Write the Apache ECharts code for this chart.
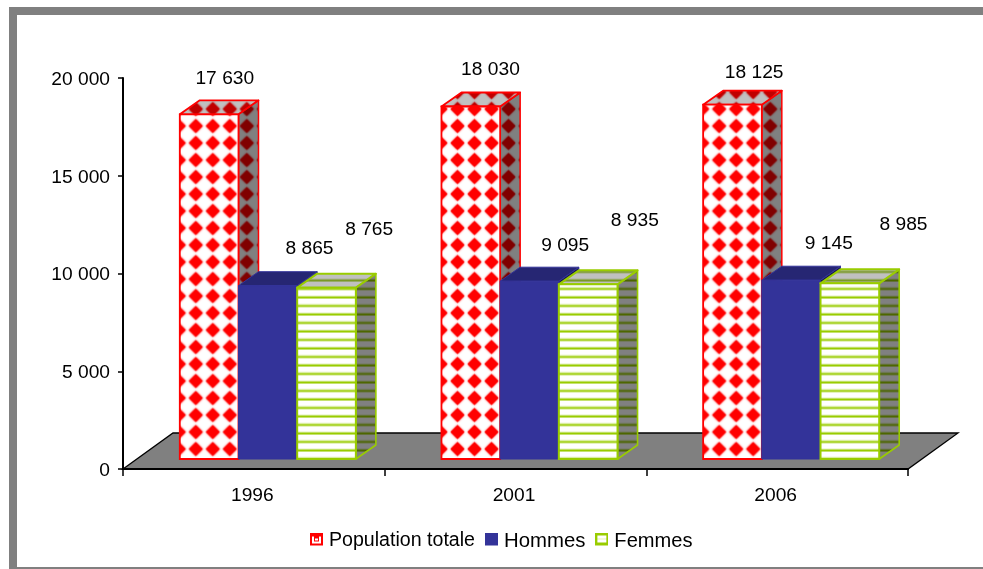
<!DOCTYPE html>
<html>
<head>
<meta charset="utf-8">
<style>html,body{margin:0;padding:0;background:#fff}#c{width:983px;height:569px}</style>
<script src="https://cdn.jsdelivr.net/npm/echarts@6/dist/echarts.min.js"></script>
</head>
<body>
<div id="c"></div>
<script>
const categories = ['1996', '2001', '2006'];
const populationTotale = [17630, 18030, 18125];
const hommes = [8865, 9095, 9145];
const femmes = [8765, 8935, 8985];
const yTicks = [0, 5000, 10000, 15000, 20000];

// layout: label offsets from each bar's front-top-left corner
const labelOffsets = [
  [[45, -36], [71, -37], [72, -58]],
  [[49, -37], [65, -35], [76, -64]],
  [[51, -32], [67, -37], [83, -59]]
];
const FONT = '"Liberation Sans", Arial, sans-serif';
const FS = 19.2;
const DEPTH_X = 20, DEPTH_Y = -14, SHIFT_X = 14, SHIFT_Y = -10;
const BAR_RATIO = 0.2243;

function fmt(v) { return String(v).replace(/\B(?=(\d{3})+$)/g, ' '); }

function diamondTile(bg, fg) {
  const c = document.createElement('canvas'); c.width = c.height = 17;
  const g = c.getContext('2d');
  g.fillStyle = bg; g.fillRect(0, 0, 17, 17);
  g.fillStyle = fg;
  g.shadowColor = fg; g.shadowBlur = 2;
  g.beginPath(); g.moveTo(8.5, 1.5); g.lineTo(15.5, 8.5); g.lineTo(8.5, 15.5); g.lineTo(1.5, 8.5); g.closePath(); g.fill();
  return c;
}
function stripeTile(bg, fg) {
  const c = document.createElement('canvas'); c.width = c.height = 17;
  const g = c.getContext('2d');
  g.fillStyle = bg; g.fillRect(0, 0, 17, 17);
  g.fillStyle = fg;
  g.fillRect(0, 3.5, 17, 2); g.fillRect(0, 12, 17, 2);
  g.globalAlpha = 0.3;
  g.fillRect(0, 2.5, 17, 1); g.fillRect(0, 11, 17, 1);
  return c;
}
const pat = c => ({ image: c, repeat: 'repeat' });

const styles = [
  { front: pat(diamondTile('#ffffff', '#ff0000')), top: pat(diamondTile('#c0c0c0', '#c00000')), side: pat(diamondTile('#808080', '#800000')), stroke: '#ff0000', lw: 1.8, sideLw: 1.5, patX: -7.5, patY: 18.5 },
  { front: '#333399', top: '#262673', side: '#1a1a4d', stroke: '#333399', lw: 1, sideLw: 1, patX: 0, patY: 0 },
  { front: pat(stripeTile('#ffffff', '#99cc00')), top: pat(stripeTile('#c0c0c0', '#7a9926')), side: pat(stripeTile('#808080', '#4d6600')), stroke: '#99cc00', lw: 2, sideLw: 1.6, patX: 0, patY: 4.5 }
];

function legendIcon(kind) {
  const c = document.createElement('canvas'); c.width = 13; c.height = 17;
  const g = c.getContext('2d');
  if (kind === 0) {
    g.fillStyle = '#ff0000'; g.fillRect(0, 0, 13, 13);
    g.fillStyle = '#ffffff';
    g.fillRect(2, 4, 2, 7); g.fillRect(9, 4, 2, 7); g.fillRect(4, 9, 5, 2); g.fillRect(5, 6, 3, 2);
  } else if (kind === 1) {
    g.fillStyle = '#333399'; g.fillRect(0, 0, 13, 13);
  } else {
    g.fillStyle = '#99cc00'; g.fillRect(0, 0, 13, 13);
    g.fillStyle = '#ffffff'; g.fillRect(2, 3, 9, 7);
    g.fillStyle = '#e6f2b3'; g.fillRect(2, 6, 9, 1);
  }
  return 'image://' + c.toDataURL();
}

function barRender(si) {
  return function (params, api) {
    const cat = api.value(0), val = api.value(1);
    const pTop = api.coord([cat, val]), pBase = api.coord([cat, 0]);
    const band = api.size([1, 0])[0];
    const w = band * BAR_RATIO;
    const left = pBase[0] + SHIFT_X + (si - 1.5) * w;
    const top = pTop[1] + SHIFT_Y, base = pBase[1] + SHIFT_Y;
    const h = base - top;
    const st = styles[si];
    const ox = left - st.patX, oy = base - st.patY;
    const lx = left - ox, rx = lx + w, by = base - oy, ty = top - oy;
    const off = labelOffsets[cat][si];
    return {
      type: 'group',
      children: [
        { type: 'polygon', x: ox, y: oy,
          shape: { points: [[rx, ty], [rx + DEPTH_X, ty + DEPTH_Y], [rx + DEPTH_X, by + DEPTH_Y], [rx, by]] },
          style: { fill: st.side, stroke: st.stroke, lineWidth: st.sideLw, lineJoin: 'round' } },
        { type: 'polygon', x: ox, y: oy,
          shape: { points: [[lx, ty], [lx + DEPTH_X, ty + DEPTH_Y], [rx + DEPTH_X, ty + DEPTH_Y], [rx, ty]] },
          style: { fill: st.top, stroke: st.stroke, lineWidth: st.lw, lineJoin: 'round' } },
        { type: 'rect', x: ox, y: oy,
          shape: { x: lx, y: ty, width: w, height: h },
          style: { fill: st.front, stroke: st.stroke, lineWidth: st.lw } },
        { type: 'text', x: left + off[0], y: top + off[1],
          style: { text: fmt(val), font: FS + 'px ' + FONT, fill: '#000', align: 'center', verticalAlign: 'middle' } }
      ]
    };
  };
}

function floorRender(params, api) {
  const cs = params.coordSys;
  const x0 = cs.x, x1 = cs.x + cs.width, y0 = cs.y + cs.height;
  const dx = 50, dy = -36;
  return {
    type: 'polygon',
    shape: { points: [[x0, y0], [x0 + dx, y0 + dy], [x1 + dx, y0 + dy], [x1, y0]] },
    style: { fill: '#808080', stroke: '#000', lineWidth: 1.3 }
  };
}

const names = ['Population totale', 'Hommes', 'Femmes'];
const legendSizes = [19.6, 20.35, 20.1];
const legendPads = [[0, 0, 0, 1], [0, 0, 2, 1], [0, 0, 2, 1]];
const values = [populationTotale, hommes, femmes];
const chart = echarts.init(document.getElementById('c'), null, { renderer: 'canvas', width: 983, height: 569 });
const option = {
  animation: false,
  backgroundColor: '#ffffff',
  textStyle: { fontFamily: FONT },
  grid: { left: 123, top: 78, width: 785, height: 391, containLabel: false },
  xAxis: {
    type: 'category', data: categories, z: 5,
    boundaryGap: true,
    axisLine: { lineStyle: { color: '#000', width: 2 } },
    axisTick: { show: true, alignWithLabel: false, length: 7, lineStyle: { color: '#000', width: 1.5 } },
    axisLabel: { color: '#000', fontSize: FS, fontFamily: FONT, margin: 17, padding: [0, 3, 0, 0] },
    splitLine: { show: false }
  },
  yAxis: {
    type: 'value', min: 0, max: 20000, interval: 5000, z: 5,
    axisLine: { show: true, lineStyle: { color: '#000', width: 2 } },
    axisTick: { show: true, length: 5, lineStyle: { color: '#000', width: 1.5 } },
    axisLabel: { color: '#000', fontSize: FS, fontFamily: FONT, margin: 13, verticalAlign: 'top', lineHeight: 3, formatter: v => fmt(v) },
    splitLine: { show: false }
  },
  legend: {
    left: 305, top: 526, itemWidth: 13, itemHeight: 17, itemGap: 10,
    textStyle: { color: '#000', fontSize: 19.6, fontFamily: FONT, padding: [0, 0, 0, 1] },
    data: names.map((n, i) => ({ name: n, icon: legendIcon(i), textStyle: { fontSize: legendSizes[i], padding: legendPads[i] } }))
  },
  graphic: [
    { type: 'rect', shape: { x: 9, y: 7, width: 974, height: 8 }, style: { fill: '#808080' }, z: 0 },
    { type: 'rect', shape: { x: 9, y: 7, width: 8, height: 562 }, style: { fill: '#808080' }, z: 0 },
    { type: 'rect', shape: { x: 9, y: 567, width: 974, height: 2 }, style: { fill: '#808080' }, z: 0 }
  ],
  series: [
    { type: 'custom', name: 'floor', z: 1, silent: true, renderItem: floorRender, data: [[0, 0]], encode: { x: 0, y: 1 }, clip: false },
    ...names.map((n, i) => ({
      type: 'custom', name: n, z: 2 + i, clip: false, renderItem: barRender(i),
      itemStyle: { color: ['#ff0000', '#333399', '#99cc00'][i] },
      encode: { x: 0, y: 1 },
      data: values[i].map((v, c) => [c, v])
    }))
  ]
};
chart.setOption(option);
</script>
</body>
</html>
